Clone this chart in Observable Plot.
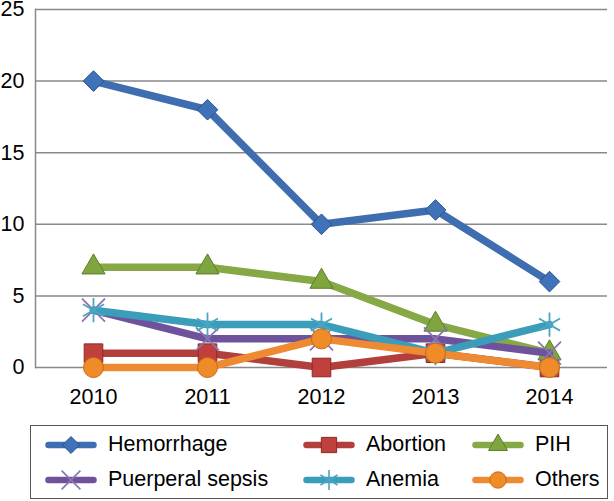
<!DOCTYPE html>
<html><head><meta charset="utf-8">
<script src="https://cdn.jsdelivr.net/npm/d3@7"></script>
<script src="https://cdn.jsdelivr.net/npm/@observablehq/plot@0.6"></script>
<style>
body{margin:0;background:#fff;}
#wrap{position:relative;width:614px;height:501px;font-family:"Liberation Sans",Arial,sans-serif;}
#legend{position:absolute;left:30px;top:425px;width:578px;height:74px;box-sizing:border-box;border:1.5px solid #555;}
.item{position:absolute;height:30px;display:flex;align-items:center;font-size:21.5px;color:#000;white-space:nowrap;}
.item svg{margin-right:11px;}
</style></head><body><div id="wrap"><div id="chart"></div><div id="legend"></div></div>
<script>
const years = ["2010", "2011", "2012", "2013", "2014"];
const hemorrhage = [20, 18, 10, 11, 6];
const abortion = [1, 1, 0, 1, 0];
const pih = [7, 7, 6, 3, 1];
const puerperalSepsis = [4, 2, 2, 2, 1];
const anemia = [4, 3, 3, 1, 3];
const others = [0, 0, 2, 1, 0];
const seriesNames = ["Hemorrhage", "Abortion", "PIH", "Puerperal sepsis", "Anemia", "Others"];
const yTicks = [0, 5, 10, 15, 20, 25];

const seriesValues = [hemorrhage, abortion, pih, puerperalSepsis, anemia, others];
const styles = [
  {line: "#3E6DB0", fill: "#3F72B8", edge: "#2A528C", symbol: "diamond2", r: 9.3, filled: true},
  {line: "#B33F3C", fill: "#C0403D", edge: "#8A2A28", symbol: "square", r: 10.5, filled: true},
  {line: "#86A845", fill: "#7FA53E", edge: "#5E7E2C", symbol: "triangle", r: 8.6, filled: true},
  {line: "#6E539C", fill: "none", edge: "#8A74B4", symbol: "times", r: 10.5, filled: false},
  {line: "#3A9DBA", fill: "none", edge: "#4AA6C2", symbol: "asterisk", r: 11.5, filled: false},
  {line: "#EE8A31", fill: "#F08B2A", edge: "#C86A14", symbol: "circle", r: 10, filled: true}
];

const marks = [
  Plot.ruleY(yTicks, {stroke: "#898989", strokeWidth: 1.5}),
  Plot.frame({anchor: "left", stroke: "#898989", strokeWidth: 1.5}),
  Plot.axisY(yTicks, {tickSize: 0, tickPadding: 11, fill: "#000", label: null}),
  Plot.axisX({tickSize: 0, tickPadding: 21, fill: "#000", label: null})
];
seriesNames.forEach((name, i) => {
  const rows = years.map((yr, j) => ({year: yr, value: seriesValues[i][j], series: name}));
  const s = styles[i];
  marks.push(Plot.line(rows, {x: "year", y: "value", stroke: s.line, strokeWidth: 7.5, strokeLinejoin: "round", strokeLinecap: "round"}));
  marks.push(Plot.dot(rows, {x: "year", y: "value", symbol: () => s.symbol, r: s.r,
    fill: s.filled ? s.fill : "none", stroke: s.edge, strokeWidth: s.filled ? 1 : 1.8}));
});

const chart = Plot.plot({
  width: 614, height: 420,
  marginLeft: 35, marginRight: 7, marginTop: 9, marginBottom: 53,
  style: {fontFamily: "Liberation Sans, Arial, sans-serif", fontSize: "21.5px", color: "#000", background: "#fff", overflow: "visible"},
  x: {type: "point", domain: years, padding: 0.5, label: null},
  y: {domain: [0, 25], label: null},
  symbol: {type: "identity"},
  marks
});
document.getElementById("chart").appendChild(chart);

// Legend
const legend = document.getElementById("legend");
const colX = [14, 272, 441];
const rowTop = [3.5, 38.5];
const symMap = {diamond2: d3.symbolDiamond2, square: d3.symbolSquare, triangle: d3.symbolTriangle, times: d3.symbolTimes, asterisk: d3.symbolAsterisk, circle: d3.symbolCircle};
seriesNames.forEach((name, i) => {
  const s = styles[i];
  const item = document.createElement("div");
  item.className = "item";
  item.style.left = colX[i % 3] + "px";
  item.style.top = rowTop[Math.floor(i / 3)] + "px";
  const svg = d3.create("svg").attr("width", 52).attr("height", 24);
  svg.append("line").attr("x1", 3.5).attr("x2", 48.5).attr("y1", 12).attr("y2", 12)
    .attr("stroke", s.line).attr("stroke-width", 6.5).attr("stroke-linecap", "round");
  const rr = s.r * 0.82;
  svg.append("path").attr("transform", "translate(26,12)")
    .attr("d", d3.symbol(symMap[s.symbol], rr * rr * Math.PI)())
    .attr("fill", s.filled ? s.fill : "none").attr("stroke", s.edge).attr("stroke-width", s.filled ? 1 : 1.6);
  item.appendChild(svg.node());
  const t = document.createElement("span");
  t.textContent = name;
  item.appendChild(t);
  legend.appendChild(item);
});
</script></body></html>
